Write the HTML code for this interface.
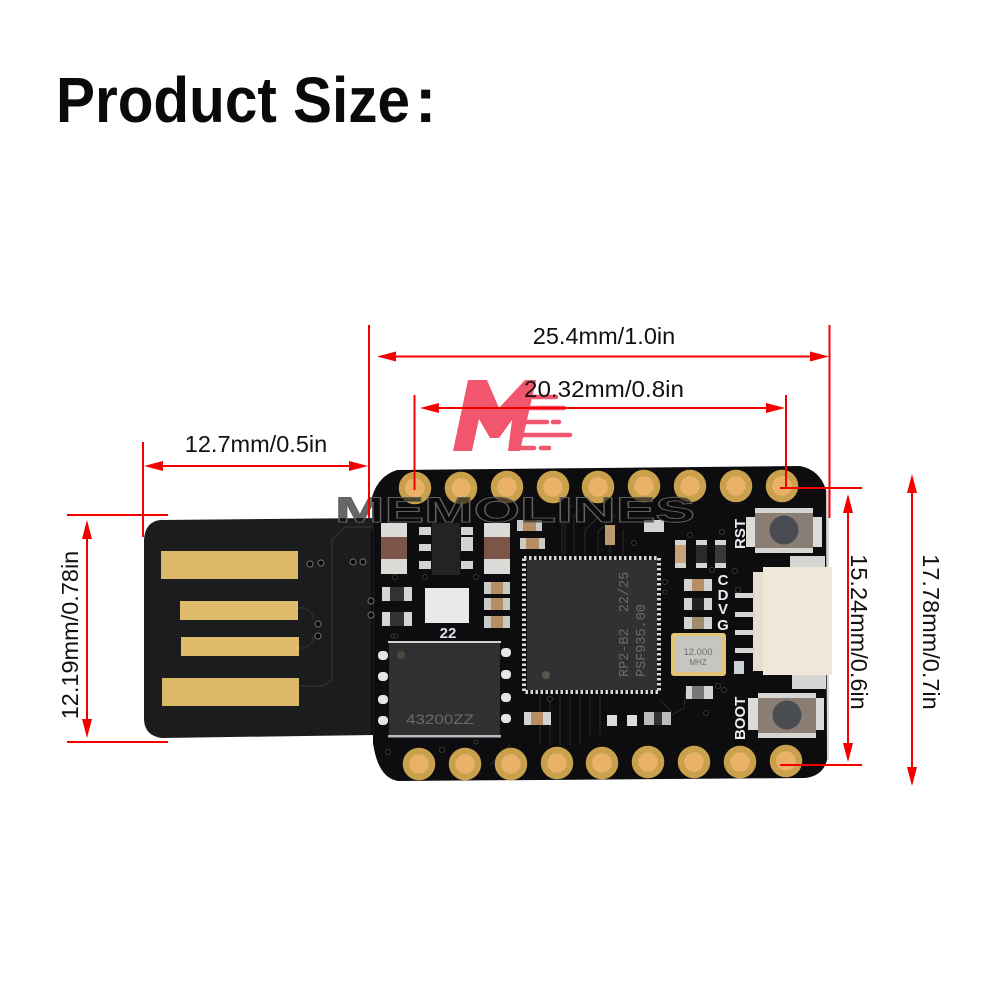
<!DOCTYPE html>
<html><head><meta charset="utf-8"><style>html,body{margin:0;padding:0;background:#fff}svg{display:block}text{font-family:"Liberation Sans",sans-serif}</style></head><body>
<svg width="1000" height="1000" viewBox="0 0 1000 1000" xmlns="http://www.w3.org/2000/svg">
<rect width="1000" height="1000" fill="#fff"/>
<text x="56" y="122" font-size="64" font-weight="700" fill="#0a0a0a" textLength="354" lengthAdjust="spacingAndGlyphs">Product Size</text>
<text x="415" y="122" font-size="64" font-weight="700" fill="#0a0a0a">:</text>

<!-- logo -->
<path d="M453 451L468 380H487L499 408L525 380H536L520 451H508L512 420L499 438H490L479 419L472 451Z" fill="#f2566f"/>
<g stroke="#f2566f" stroke-width="4.500" stroke-linecap="round"><path d="M528 408H564M525 422H547M553 422H559M522 435H570M516 448H534M541 448H549M533 397H556"/></g>

<!-- PCB -->
<path d="M826 490V760" stroke="#d8d8d8" stroke-width="6"/>
<path d="M372 497Q378 476 397 470L800 466Q820 470 826 490L827 760Q823 776 805 778L398 781Q378 778 373 743Z" fill="#0d0d0f"/>
<path d="M144 540Q145 522 160 520L374 518V735L162 738Q145 736 144 720Z" fill="#1b1c1d"/>
<path d="M372 527H345L332 540V680L322 686H300" fill="none" stroke="#2f3030" stroke-width="1.500"/>
<path d="M372 530V735" stroke="#0a0a0a" stroke-width="1.500"/>

<!-- usb contacts -->
<rect x="161" y="551" width="137" height="28" fill="#dcb968"/>
<rect x="180" y="601" width="118" height="19" fill="#dfbc6c"/>
<rect x="181" y="637" width="118" height="19" fill="#dfbc6c"/>
<rect x="162" y="678" width="137" height="28" fill="#dcb968"/>
<path d="M298 608H305L313 615V620M299 648H305L313 641V636" fill="none" stroke="#333" stroke-width="1"/>
<g fill="#050505" stroke="#666" stroke-width="1.200">
<circle cx="310" cy="564" r="3"/><circle cx="321" cy="563" r="3"/><circle cx="353" cy="562" r="3"/><circle cx="363" cy="562" r="3"/><circle cx="318" cy="624" r="3"/><circle cx="318" cy="636" r="3"/><circle cx="371" cy="601" r="3"/><circle cx="371" cy="615" r="3"/>
</g>

<!-- traces -->
<g fill="none" stroke="#2c2c2e" stroke-width="1">
<path d="M540 695V745M550 695V745M560 695V745M570 695V745M580 695V745M590 695V735M600 695V735"/>
<path d="M565 520V555M572 505L562 515V555M585 505L574 516V555M600 515L585 530V555M615 515L598 532V555M610 540V555M623 530V555"/>
<path d="M510 745L490 765M660 700L672 712M686 690L684 708L670 716"/>
</g>
<g fill="#070707" stroke="#3a3a3a" stroke-width="1">
<circle cx="634" cy="543" r="2.500"/><circle cx="665" cy="582" r="2.500"/><circle cx="690" cy="535" r="2.500"/><circle cx="722" cy="532" r="2.500"/><circle cx="735" cy="571" r="2.500"/><circle cx="738" cy="590" r="2.500"/><circle cx="712" cy="570" r="2.500"/><circle cx="665" cy="592" r="2"/><circle cx="718" cy="686" r="2.500"/><circle cx="724" cy="690" r="2.500"/><circle cx="706" cy="713" r="2.500"/><circle cx="550" cy="699" r="2.500"/><circle cx="442" cy="750" r="2.500"/><circle cx="388" cy="752" r="2.500"/><circle cx="476" cy="742" r="2"/><circle cx="395" cy="577" r="2.500"/><circle cx="425" cy="577" r="2.500"/><circle cx="476" cy="577" r="2.500"/><circle cx="393" cy="636" r="2"/><circle cx="396" cy="636" r="2"/>
</g>

<!-- pads -->
<g fill="#e9b268" stroke="#c9a04c" stroke-width="6.500">
<circle cx="415" cy="488" r="13"/><circle cx="461" cy="488" r="13"/><circle cx="507" cy="487" r="13"/><circle cx="553" cy="487" r="13"/><circle cx="598" cy="487" r="13"/><circle cx="644" cy="486" r="13"/><circle cx="690" cy="486" r="13"/><circle cx="736" cy="486" r="13"/><circle cx="782" cy="486" r="13"/>
<circle cx="419" cy="764" r="13"/><circle cx="465" cy="764" r="13"/><circle cx="511" cy="764" r="13"/><circle cx="557" cy="763" r="13"/><circle cx="602" cy="763" r="13"/><circle cx="648" cy="762" r="13"/><circle cx="694" cy="762" r="13"/><circle cx="740" cy="762" r="13"/><circle cx="786" cy="761" r="13"/>
</g>

<!-- left small parts -->
<rect x="381" y="523" width="26" height="51" fill="#dcdad6"/><rect x="381" y="537" width="26" height="22" fill="#7b5648"/>
<rect x="484" y="523" width="26" height="51" fill="#dcdad6"/><rect x="484" y="537" width="26" height="22" fill="#7b5648"/>
<rect x="432" y="523" width="28" height="52" fill="#232325"/>
<g fill="#d3d3d0"><rect x="419" y="527" width="12" height="8"/><rect x="419" y="544" width="12" height="7"/><rect x="419" y="561" width="12" height="8"/><rect x="461" y="527" width="12" height="8"/><rect x="461" y="537" width="12" height="14"/><rect x="461" y="561" width="12" height="8"/></g>
<rect x="425" y="588" width="44" height="35" fill="#e9e9e7"/>
<rect x="382" y="587" width="30" height="14" fill="#333"/><rect x="382" y="612" width="30" height="14" fill="#333"/>
<g fill="#d5d5d2"><rect x="382" y="587" width="8" height="14"/><rect x="404" y="587" width="8" height="14"/><rect x="382" y="612" width="8" height="14"/><rect x="404" y="612" width="8" height="14"/></g>
<g fill="#c9c9c5"><rect x="484" y="582" width="26" height="12"/><rect x="484" y="598" width="26" height="12"/><rect x="484" y="616" width="26" height="12"/><rect x="517" y="520" width="25" height="11"/><rect x="520" y="538" width="25" height="11"/></g>
<g fill="#b58f63"><rect x="491" y="582" width="12" height="12"/><rect x="491" y="598" width="12" height="12"/><rect x="491" y="616" width="12" height="12"/><rect x="523" y="520" width="13" height="11"/><rect x="526" y="538" width="13" height="11"/></g>
<text x="448" y="638" font-size="15" font-weight="700" fill="#d9e2e6" text-anchor="middle">22</text>

<!-- flash -->
<rect x="389" y="642" width="111" height="95" fill="#303032"/>
<rect x="388" y="641" width="113" height="2" fill="#cfd3d5"/><rect x="388" y="735" width="113" height="2.500" fill="#b6bcbf"/>
<circle cx="401" cy="655" r="4" fill="#4b4a3f"/>
<text x="406" y="724" font-size="14" fill="#6d6b60" textLength="68" lengthAdjust="spacingAndGlyphs">43200ZZ</text>
<g fill="#e5e5e5"><rect x="378" y="651" width="10" height="9" rx="4"/><rect x="378" y="672" width="10" height="9" rx="4"/><rect x="378" y="695" width="10" height="9" rx="4"/><rect x="378" y="716" width="10" height="9" rx="4"/><rect x="501" y="648" width="10" height="9" rx="4"/><rect x="501" y="670" width="10" height="9" rx="4"/><rect x="501" y="693" width="10" height="9" rx="4"/><rect x="501" y="714" width="10" height="9" rx="4"/></g>

<!-- MCU -->
<rect x="524" y="558" width="135" height="134" fill="none" stroke="#d8d8d8" stroke-width="4" stroke-dasharray="2.500 2.500"/>
<rect x="527" y="560" width="130" height="130" fill="#313133"/>
<circle cx="546" cy="675" r="4" fill="#5a584c"/>
<text transform="translate(628 677) rotate(-90)" font-size="13.500" fill="#6e6c60" style="font-family:'Liberation Mono',monospace" xml:space="preserve">RP2-B2  22/25</text>
<text transform="translate(645 677) rotate(-90)" font-size="13.500" fill="#6e6c60" style="font-family:'Liberation Mono',monospace">PSF935.00</text>

<!-- right small parts -->
<g fill="#d3d3d0"><rect x="684" y="579" width="28" height="12"/><rect x="684" y="598" width="28" height="12"/><rect x="684" y="617" width="28" height="12"/><rect x="686" y="686" width="27" height="13"/><rect x="524" y="712" width="27" height="13"/><rect x="644" y="520" width="20" height="12"/></g>
<rect x="692" y="579" width="12" height="12" fill="#b58f63"/><rect x="692" y="598" width="12" height="12" fill="#222"/><rect x="692" y="617" width="12" height="12" fill="#a18d6e"/><rect x="692" y="686" width="12" height="13" fill="#777"/><rect x="531" y="712" width="12" height="13" fill="#b58f63"/>
<rect x="675" y="540" width="11" height="28" fill="#d5d5d2"/><rect x="696" y="540" width="11" height="28" fill="#d5d5d2"/><rect x="715" y="540" width="11" height="28" fill="#d5d5d2"/>
<rect x="675" y="545" width="11" height="18" fill="#c9a27a"/><rect x="696" y="545" width="11" height="18" fill="#2b2b2b"/><rect x="715" y="545" width="11" height="18" fill="#3a3a3a"/>
<rect x="607" y="715" width="10" height="11" fill="#ddd"/><rect x="627" y="715" width="10" height="11" fill="#ddd"/><rect x="644" y="712" width="27" height="13" fill="#bbb"/><rect x="654" y="712" width="8" height="13" fill="#333"/>
<rect x="605" y="525" width="10" height="20" fill="#bd9870"/>

<!-- crystal -->
<rect x="671" y="633" width="55" height="43" rx="3" fill="#e4c376"/>
<rect x="675" y="636" width="47" height="36" rx="2" fill="#c7c5c0"/>
<text x="698" y="655" font-size="9.500" fill="#6e6e6a" text-anchor="middle">12.000</text>
<text x="698" y="665" font-size="8" fill="#6e6e6a" text-anchor="middle">MHZ</text>

<!-- silks -->
<g font-weight="700" fill="#e8eef0">
<text transform="translate(745 549) rotate(-90)" font-size="15">RST</text>
<text transform="translate(745 740) rotate(-90)" font-size="15">BOOT</text>
<text x="723" y="585" font-size="15" text-anchor="middle">C</text>
<text x="723" y="600" font-size="15" text-anchor="middle">D</text>
<text x="723" y="614" font-size="15" text-anchor="middle">V</text>
<text x="723" y="630" font-size="15" text-anchor="middle">G</text>
</g>

<!-- connector -->
<rect x="790" y="556" width="35" height="12" fill="#d5d5d4"/><rect x="792" y="675" width="34" height="14" fill="#d5d5d4"/>
<rect x="753" y="572" width="11" height="99" fill="#e6dfd0"/>
<rect x="763" y="567" width="69" height="108" fill="#efe7d8"/>
<g fill="#d5d5d4"><rect x="735" y="593" width="20" height="5"/><rect x="735" y="612" width="20" height="5"/><rect x="735" y="630" width="20" height="5"/><rect x="735" y="648" width="20" height="5"/></g>
<rect x="734" y="661" width="10" height="13" fill="#c9d2d4"/>

<!-- buttons -->
<rect x="746" y="517" width="76" height="30" fill="#dcdbd8"/><rect x="755" y="508" width="58" height="45" rx="3" fill="#8a7d74"/><rect x="755" y="508" width="58" height="5" fill="#d7d5d2"/><rect x="755" y="548" width="58" height="5" fill="#d7d5d2"/><circle cx="784" cy="530" r="14.500" fill="#494d52"/>
<rect x="748" y="698" width="76" height="32" fill="#dcdbd8"/><rect x="758" y="693" width="58" height="45" rx="3" fill="#8a7d74"/><rect x="758" y="693" width="58" height="5" fill="#d7d5d2"/><rect x="758" y="733" width="58" height="5" fill="#d7d5d2"/><circle cx="787" cy="715" r="14.500" fill="#494d52"/>

<!-- watermark -->
<text x="335" y="522" font-size="35" font-weight="700" fill="#0c0c0c" fill-opacity=".62" stroke="#606060" stroke-width=".9" textLength="360" lengthAdjust="spacingAndGlyphs">MEMOLINES</text>

<!-- dimension lines -->
<g stroke="#f40000" stroke-width="2" fill="none">
<path d="M369 325V518M829.500 325V518M414.500 395V490M786 395V488M143 442V537"/>
<path d="M380 356.500H825M425 408H781M148 466H364"/>
<path d="M780 488H862M780 765H862M67 515H168M67 742H168"/>
<path d="M87 525V733M848 500V757M912 480V780"/>
</g>
<g fill="#f40000">
<path d="M377 356.500L396 351.500V361.500ZM829 356.500L810 351.500V361.500Z"/>
<path d="M420 408L439 403V413ZM785 408L766 403V413Z"/>
<path d="M144 466L163 461V471ZM368 466L349 461V471Z"/>
<path d="M87 520L82 539H92ZM87 738L82 719H92Z"/>
<path d="M848 494L843 513H853ZM848 762L843 743H853Z"/>
<path d="M912 474L907 493H917ZM912 786L907 767H917Z"/>
</g>

<!-- dimension text -->
<g font-size="23.500" fill="#111">
<text x="604" y="344" text-anchor="middle">25.4mm/1.0in</text>
<text x="604" y="397" text-anchor="middle" textLength="160" lengthAdjust="spacingAndGlyphs">20.32mm/0.8in</text>
<text x="256" y="452" text-anchor="middle">12.7mm/0.5in</text>
<text transform="translate(78 635) rotate(-90)" text-anchor="middle">12.19mm/0.78in</text>
<text transform="translate(851 632) rotate(90)" text-anchor="middle">15.24mm/0.6in</text>
<text transform="translate(923 632) rotate(90)" text-anchor="middle">17.78mm/0.7in</text>
</g>
</svg>
</body></html>
